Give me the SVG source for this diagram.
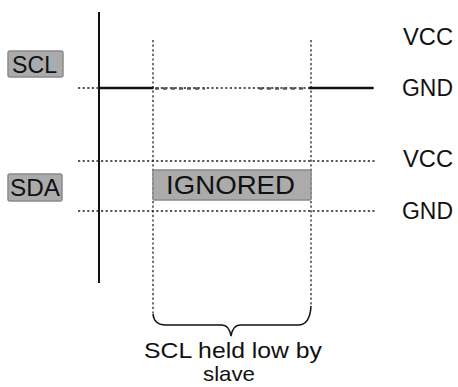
<svg xmlns="http://www.w3.org/2000/svg" width="458" height="387" viewBox="0 0 458 387">
  <style>
    .lbl { font-family: "Liberation Sans", Arial, sans-serif; fill: #111; }
    .tag { fill: #ababab; stroke: #8a8a8a; stroke-width: 1.5; }
    .dot { stroke: #222; stroke-width: 1.3; stroke-dasharray: 2.2 2.4; fill: none; }
    .solid { stroke: #111; fill: none; }
  </style>
  <rect width="458" height="387" fill="#fff"/>

  <g id="connectors">
    <!-- time axis -->
    <line class="solid" x1="99" y1="12" x2="99" y2="283" stroke-width="2"/>
    <!-- level guides -->
    <line class="dot" x1="78" y1="88" x2="374" y2="88"/>
    <line class="dot" x1="78" y1="161" x2="376" y2="161"/>
    <line class="dot" x1="78" y1="211" x2="376" y2="211"/>
    <!-- interval markers -->
    <line class="dot" x1="153" y1="40" x2="153" y2="316"/>
    <line class="dot" x1="311" y1="40" x2="311" y2="306"/>
    <!-- SCL signal, low -->
    <line class="solid" x1="100" y1="88" x2="153" y2="88" stroke-width="2.5"/>
    <line class="solid" x1="309" y1="88" x2="373" y2="88" stroke-width="2.5"/>
    <line x1="155" y1="88.5" x2="205" y2="88.5" stroke="#555" stroke-width="2.4" stroke-dasharray="4 4"/>
    <line x1="259" y1="88.5" x2="307" y2="88.5" stroke="#555" stroke-width="2.4" stroke-dasharray="4 4"/>
    <!-- brace -->
    <path class="solid" stroke-width="1.5" d="M153 314 Q154 325 166 325 L222 325 Q229 325 231 336 Q233 325 240 325 L298 325 Q310 325 311 306"/>
  </g>

  <g id="scl">
    <rect class="tag" x="8" y="51" width="55" height="26" rx="2"/>
    <text class="lbl" x="12" y="72.5" font-size="24" textLength="45" lengthAdjust="spacingAndGlyphs">SCL</text>
  </g>
  <g id="sda">
    <rect class="tag" x="8" y="174" width="54" height="27" rx="2"/>
    <text class="lbl" x="10" y="196" font-size="24" textLength="50" lengthAdjust="spacingAndGlyphs">SDA</text>
  </g>
  <g id="ignored">
    <rect class="tag" x="153" y="170" width="158" height="30" rx="1"/>
    <text class="lbl" x="166" y="193.5" font-size="25" textLength="129" lengthAdjust="spacingAndGlyphs">IGNORED</text>
  </g>

  <g id="levels">
    <text class="lbl" x="403" y="45" font-size="23" textLength="50" lengthAdjust="spacingAndGlyphs">VCC</text>
    <text class="lbl" x="402" y="95.5" font-size="23" textLength="51" lengthAdjust="spacingAndGlyphs">GND</text>
    <text class="lbl" x="403" y="167" font-size="23" textLength="50" lengthAdjust="spacingAndGlyphs">VCC</text>
    <text class="lbl" x="402" y="219" font-size="23" textLength="51" lengthAdjust="spacingAndGlyphs">GND</text>
  </g>

  <g id="caption">
    <text class="lbl" x="144" y="358" font-size="21.5" textLength="178" lengthAdjust="spacingAndGlyphs">SCL held low by</text>
    <text class="lbl" x="203" y="381" font-size="21" textLength="52" lengthAdjust="spacingAndGlyphs">slave</text>
  </g>
</svg>
